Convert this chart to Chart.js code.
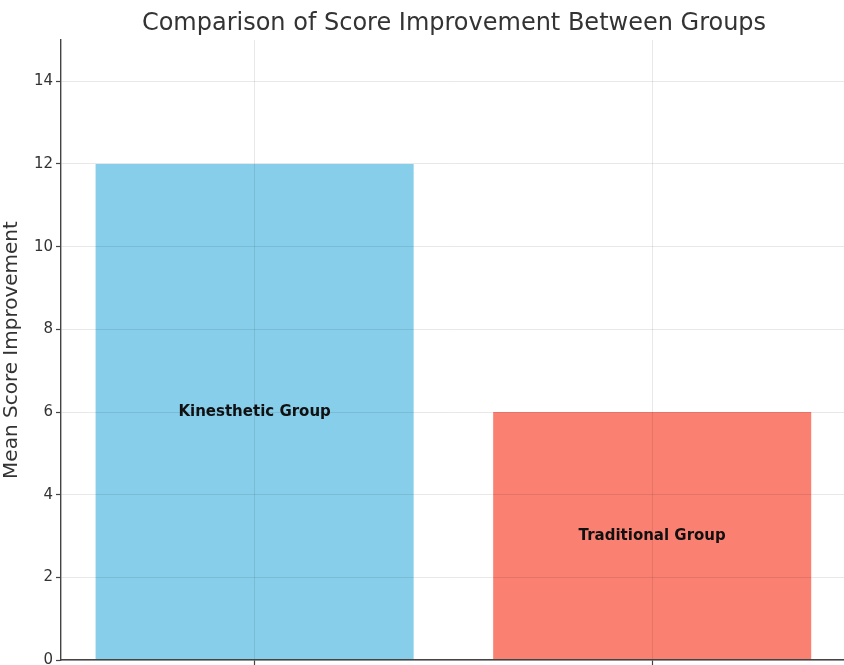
<!DOCTYPE html>
<html>
<head>
<meta charset="utf-8">
<script src="https://cdn.jsdelivr.net/npm/chart.js@4.4.0/dist/chart.umd.min.js"></script>
<style>
  html, body { margin: 0; padding: 0; background: #fff; overflow: hidden; }
  #grafico { display: block; }
</style>
</head>
<body>
<canvas id="grafico" width="847" height="700"></canvas>
<script>
// Datos de la comparación
const grupos = ['Kinesthetic Group', 'Traditional Group'];
const mejoras = [12, 6];
const colores = ['#87ceeb', '#fa8072'];
const ticksY = [0, 2, 4, 6, 8, 10, 12, 14];

const colorEje = '#444';
const colorRejilla = 'rgba(0, 0, 0, 0.09)';

// Nombre del grupo dentro de cada barra, a media altura
const etiquetasBarras = {
  id: 'etiquetasBarras',
  afterDatasetsDraw(chart) {
    const { ctx, scales: { y } } = chart;
    const meta = chart.getDatasetMeta(0);
    ctx.save();
    ctx.font = 'bold 15px "DejaVu Sans"';
    ctx.fillStyle = '#111';
    ctx.textAlign = 'center';
    ctx.textBaseline = 'middle';
    meta.data.forEach((barra, i) => {
      ctx.fillText(grupos[i], barra.x, y.getPixelForValue(mejoras[i] / 2));
    });
    ctx.restore();
  }
};

Chart.defaults.font.family = '"DejaVu Sans"';
Chart.defaults.color = '#333';

const ctx = document.getElementById('grafico').getContext('2d');

new Chart(ctx, {
  type: 'bar',
  data: {
    datasets: [{
      data: mejoras.map((v, i) => ({ x: i, y: v })),
      backgroundColor: colores,
      borderWidth: 0,
      categoryPercentage: 0.8,
      barPercentage: 1
    }]
  },
  options: {
    responsive: false,
    animation: false,
    layout: { padding: 0 },
    scales: {
      x: {
        type: 'linear',
        offset: false,
        min: -0.487,
        max: 1.49,
        afterBuildTicks: s => { s.ticks = grupos.map((_, i) => ({ value: i })); },
        afterFit: s => { s.height = 40; },
        ticks: { display: false },
        grid: {
          z: 1,
          offset: false,
          color: colorRejilla,
          borderDash: [2, 2],
          tickLength: 5,
          tickColor: colorEje,
          tickBorderDash: [],
          tickWidth: 1.2
        },
        border: { z: 1, color: colorEje, width: 1.4 }
      },
      y: {
        min: 0,
        max: 15,
        afterBuildTicks: s => { s.ticks = ticksY.map(v => ({ value: v })); },
        afterFit: s => { s.width = 61; },
        ticks: {
          padding: 3,
          font: { size: 15 },
          color: '#333'
        },
        title: {
          display: true,
          text: 'Mean Score Improvement',
          font: { size: 20 },
          color: '#333',
          padding: { top: 0, bottom: 0 }
        },
        grid: {
          z: 1,
          color: colorRejilla,
          borderDash: [2, 2],
          tickLength: 5,
          tickColor: colorEje,
          tickBorderDash: [],
          tickWidth: 1.2
        },
        border: { z: 1, color: colorEje, width: 1.4 }
      }
    },
    plugins: {
      legend: { display: false },
      tooltip: { enabled: false },
      title: {
        display: true,
        fullSize: false,
        text: 'Comparison of Score Improvement Between Groups',
        font: { size: 24, weight: 'normal' },
        color: '#333',
        padding: { top: 9, bottom: 2.2 }
      }
    }
  },
  plugins: [etiquetasBarras]
});
</script>
</body>
</html>
